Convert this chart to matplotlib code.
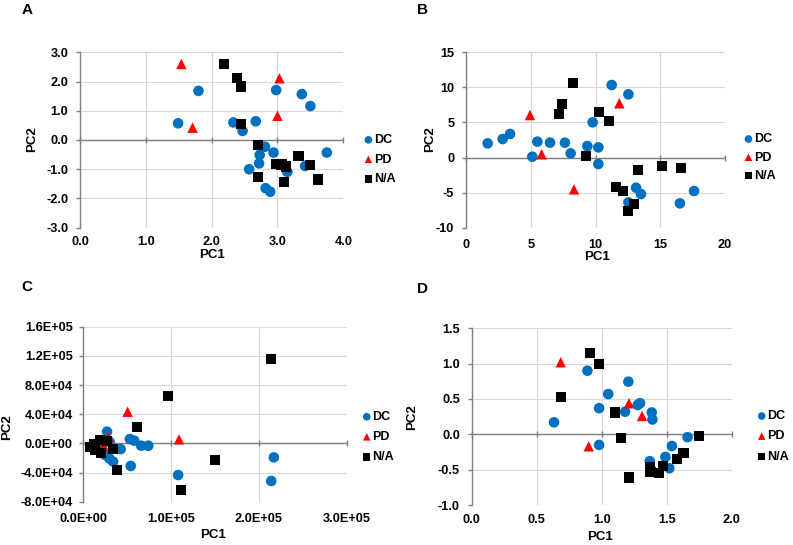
import matplotlib
matplotlib.use('Agg')
import matplotlib.pyplot as plt
from matplotlib.ticker import FuncFormatter

plt.rcParams['font.family'] = ['Liberation Sans', 'DejaVu Sans']
plt.rcParams['font.weight'] = 'bold'

# ---------------- data ----------------
series_names = ["DC", "PD", "N/A"]

A_dc_x = [1.49, 1.80, 2.33, 2.47, 2.67, 2.98, 3.37, 3.50, 3.75, 2.94, 2.81, 2.73, 2.72, 2.57, 2.82, 2.89, 3.15, 3.42]
A_dc_y = [0.57, 1.68, 0.60, 0.31, 0.64, 1.71, 1.57, 1.16, -0.43, -0.43, -0.23, -0.51, -0.80, -1.00, -1.65, -1.77, -1.09, -0.89]
A_pd_x = [1.54, 1.71, 3.03, 3.00]
A_pd_y = [2.60, 0.42, 2.11, 0.83]
A_na_x = [2.19, 2.38, 2.45, 2.45, 2.71, 2.70, 2.98, 3.06, 3.13, 3.10, 3.32, 3.49, 3.62]
A_na_y = [2.60, 2.11, 1.83, 0.54, -0.17, -1.26, -0.83, -0.84, -0.91, -1.45, -0.54, -0.86, -1.35]

B_dc_x = [1.67, 2.83, 3.40, 5.12, 5.51, 6.49, 7.64, 8.08, 9.37, 9.78, 10.22, 10.22, 11.25, 12.54, 13.13, 13.51, 12.54, 16.52, 17.61]
B_dc_y = [2.02, 2.64, 3.36, 0.12, 2.26, 2.12, 2.12, 0.60, 1.64, 5.02, 1.45, -0.93, 10.34, 9.01, -4.30, -5.20, -6.39, -6.53, -4.77]
B_pd_x = [4.94, 5.84, 8.34, 11.84]
B_pd_y = [6.06, 0.47, -4.53, 7.73]
B_na_x = [8.24, 7.39, 7.18, 10.27, 11.07, 9.24, 13.31, 15.11, 16.58, 11.58, 12.15, 12.97, 12.54]
B_na_y = [10.58, 7.59, 6.16, 6.44, 5.26, 0.22, -1.78, -1.16, -1.54, -4.15, -4.77, -6.63, -7.58]

C_dc_x = [2.7e4, 5.3e4, 5.8e4, 6.6e4, 7.4e4, 4.25e4, 3.4e4, 5.4e4, 1.08e5, 2.17e5, 2.14e5, 1.1e4, 2.5e4, 3.0e4, 2.96e4, 1.8e4, 2.2e4]
C_dc_y = [1.6e4, 6e3, 3.7e3, -3.2e3, -3.2e3, -7.8e3, -2.5e4, -3.1e4, -4.34e4, -1.92e4, -5.16e4, -4.6e3, -1.6e4, 2e3, -2.06e4, -7e3, 1e3]
C_pd_x = [5.05e4, 1.09e5, 2.85e4, 2.3e4]
C_pd_y = [4.34e4, 5.5e3, 9e3, -3e3]
C_na_x = [1.22e4, 1.9e4, 1.33e4, 2.0e4, 2.66e4, 3.34e4, 7.6e3, 3.87e4, 6.15e4, 9.68e4, 1.5e5, 1.11e5, 2.14e5]
C_na_y = [-9e2, 4.6e3, -9.1e3, -1.28e4, 3.2e3, -7.8e3, -5.5e3, -3.66e4, 2.29e4, 6.54e4, -2.28e4, -6.4e4, 1.152e5]

D_dc_x = [0.633, 0.89, 0.98, 1.05, 1.205, 1.18, 1.277, 1.295, 1.385, 1.39, 0.98, 1.66, 1.54, 1.49, 1.37, 1.52]
D_dc_y = [0.17, 0.90, 0.37, 0.57, 0.745, 0.32, 0.415, 0.44, 0.31, 0.21, -0.15, -0.04, -0.165, -0.32, -0.38, -0.48]
D_pd_x = [0.685, 1.21, 1.31, 0.90]
D_pd_y = [1.02, 0.44, 0.26, -0.17]
D_na_x = [0.91, 0.98, 0.685, 1.10, 1.15, 1.21, 1.75, 1.63, 1.58, 1.47, 1.44, 1.375, 1.37]
D_na_y = [1.15, 0.99, 0.53, 0.31, -0.05, -0.61, -0.02, -0.26, -0.35, -0.45, -0.55, -0.53, -0.47]

A_xticks = [0.0, 1.0, 2.0, 3.0, 4.0]
A_yticks = [-3.0, -2.0, -1.0, 0.0, 1.0, 2.0, 3.0]
B_xticks = [0, 5, 10, 15, 20]
B_yticks = [-10, -5, 0, 5, 10, 15]
C_xticks = [0, 1e5, 2e5, 3e5]
C_yticks = [-8e4, -4e4, 0, 4e4, 8e4, 1.2e5, 1.6e5]
D_xticks = [0.0, 0.5, 1.0, 1.5, 2.0]
D_yticks = [-1.0, -0.5, 0.0, 0.5, 1.0, 1.5]

# ---------------- style ----------------
W, H = 793, 545
BLUE = '#0070C0'
RED = '#FF0000'
BLACK = '#000000'
AXC = '#7f7f7f'
GRIDC = '#d9d9d9'
TICKFS = 9.2
LEGFS = 9
LABFS = 9.5

fig = plt.figure(figsize=(W / 100, H / 100), dpi=100)


def rect(x0, x1, y0, y1):
    return [x0 / W, 1 - y1 / H, (x1 - x0) / W, (y1 - y0) / H]


fmt1 = FuncFormatter(lambda v, p: f"{v:.1f}")
fmt0 = FuncFormatter(lambda v, p: f"{v:.0f}")
fmtE = FuncFormatter(lambda v, p: f"{v:.1E}")


def panel(r, dc, pd, na, xt, yt, fmtx, fmty, leg_xy, lspace, xpad, ypad):
    ax = fig.add_axes(r)
    ax.set_xlim(xt[0], xt[-1])
    ax.set_ylim(yt[0], yt[-1])
    ax.set_xticks(xt)
    ax.set_yticks(yt)
    ax.xaxis.set_major_formatter(fmtx)
    ax.yaxis.set_major_formatter(fmty)
    ax.grid(True, color=GRIDC, lw=0.8, zorder=0)
    ax.set_axisbelow(True)
    for s in ['top', 'right', 'bottom']:
        ax.spines[s].set_visible(False)
    ax.spines['left'].set_color(AXC)
    ax.spines['left'].set_linewidth(1.0)
    ax.spines['left'].set_zorder(2)
    ax.tick_params(axis='y', direction='out', length=3, width=1.0, color=AXC,
                   pad=ypad, labelsize=TICKFS)
    ax.tick_params(axis='x', length=0, pad=xpad, labelsize=TICKFS)
    for lab in ax.get_xticklabels() + ax.get_yticklabels():
        lab.set_fontweight('bold')
    ax.axhline(0, color=AXC, lw=1.0, zorder=2)
    ax.plot(xt, [0] * len(xt), linestyle='none', marker='|', markersize=5,
            markeredgewidth=1.0, color=AXC, zorder=2, clip_on=False)
    ax.scatter(dc[0], dc[1], s=58, marker='o', color=BLUE, edgecolors='none',
               zorder=3, label=series_names[0])
    ax.scatter(pd[0], pd[1], s=56, marker='^', color=RED, edgecolors='none',
               zorder=4, label=series_names[1])
    ax.scatter(na[0], na[1], s=54, marker='s', color=BLACK, edgecolors='none',
               zorder=5, label=series_names[2])
    ax.legend(loc='center left', bbox_to_anchor=leg_xy, frameon=False,
              borderpad=0, borderaxespad=0, handlelength=0.6, handletextpad=0.15,
              labelspacing=lspace, prop={'size': LEGFS, 'weight': 'bold'},
              markerscale=0.72)
    return ax


panel(rect(80, 343.3, 52.3, 227.7), (A_dc_x, A_dc_y), (A_pd_x, A_pd_y), (A_na_x, A_na_y),
      A_xticks, A_yticks, fmt1, fmt1, (1.081, 0.388), 0.6, 6, 5.5)
panel(rect(466, 725, 52.3, 227.7), (B_dc_x, B_dc_y), (B_pd_x, B_pd_y), (B_na_x, B_na_y),
      B_xticks, B_yticks, fmt0, fmt0, (1.076, 0.40), 0.5, 8, 5.5)
panel(rect(83.3, 346.7, 326.7, 501.7), (C_dc_x, C_dc_y), (C_pd_x, C_pd_y), (C_na_x, C_na_y),
      C_xticks, C_yticks, fmtE, fmtE, (1.062, 0.369), 0.65, 8, 4.5)
panel(rect(471.7, 731.7, 328.3, 505), (D_dc_x, D_dc_y), (D_pd_x, D_pd_y), (D_na_x, D_na_y),
      D_xticks, D_yticks, fmt1, fmt1, (1.101, 0.388), 0.65, 6.5, 5.5)


def ftext(x, y, s, **kw):
    fig.text(x / W, 1 - y / H, s, ha='center', va='center', fontweight='bold', **kw)


# panel letters
ftext(27, 10, "A", fontsize=11)
ftext(422, 10.5, "B", fontsize=11)
ftext(27, 287, "C", fontsize=11)
ftext(422, 289, "D", fontsize=11)

# axis titles
ftext(211.7, 255, "PC1", fontsize=LABFS)
ftext(596.7, 256.7, "PC1", fontsize=LABFS)
ftext(213.3, 535, "PC1", fontsize=LABFS)
ftext(600, 536.7, "PC1", fontsize=LABFS)
ftext(31.7, 139.3, "PC2", fontsize=LABFS, rotation=90)
ftext(430, 139.3, "PC2", fontsize=LABFS, rotation=90)
ftext(7.5, 426.7, "PC2", fontsize=LABFS, rotation=90)
ftext(411.7, 416.7, "PC2", fontsize=LABFS, rotation=90)

fig.savefig("out.png", dpi=100)
